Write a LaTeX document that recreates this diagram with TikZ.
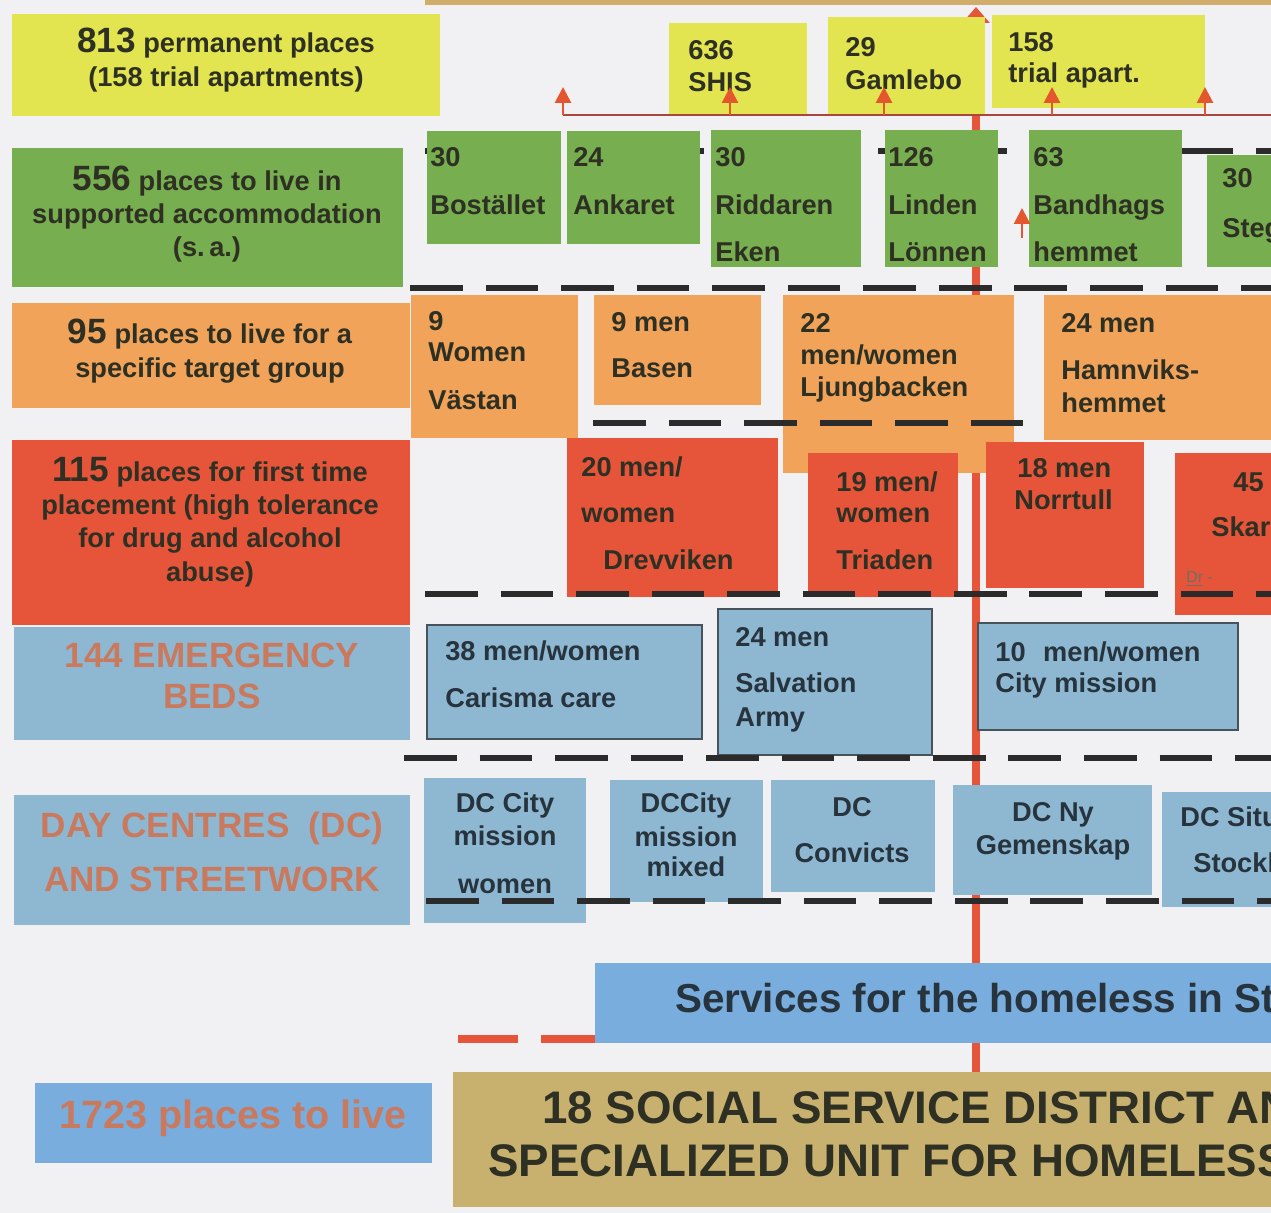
\documentclass[tikz,border=0pt]{standalone}
\usepackage{fontspec}
\setmainfont{Liberation Sans}
\usetikzlibrary{positioning,fit,arrows.meta}

\definecolor{paper}{HTML}{F1F1F4}
\definecolor{yelc}{HTML}{E2E54F}
\definecolor{grnc}{HTML}{77AE4F}
\definecolor{orac}{HTML}{F1A359}
\definecolor{redc}{HTML}{E6553A}
\definecolor{bluc}{HTML}{8EB8D2}
\definecolor{skyc}{HTML}{78ADDD}
\definecolor{tanc}{HTML}{C8B06E}
\definecolor{inkc}{HTML}{2E3024}
\definecolor{slatec}{HTML}{27333D}
\definecolor{rustc}{HTML}{C97A5E}
\definecolor{arrc}{HTML}{E4572E}
\definecolor{wirec}{HTML}{A8453C}
\definecolor{dashc}{HTML}{2B2B2B}

\newcommand\smf{\fontsize{15.5}{19}\selectfont}
\newcommand\bgf{\fontsize{20}{24}\selectfont}

\tikzset{
  cell/.style={inner sep=0pt, outer sep=0pt},
  yelbox/.style={cell, fill=yelc},
  grnbox/.style={cell, fill=grnc},
  orabox/.style={cell, fill=orac},
  redbox/.style={cell, fill=redc},
  blubox/.style={cell, fill=bluc},
  edgebox/.style={cell, fill=bluc, draw=slatec!85, line width=1.2pt},
  txt/.style={inner sep=0pt, anchor=west, font=\bfseries\smf, text=inkc, text height=11pt, text depth=0pt},
  dctxt/.style={txt, anchor=center, text=slatec},
  btxt/.style={txt, text=slatec},
  lab/.style={inner sep=0pt, align=center, font=\bfseries\smf, text=inkc},
  rustlab/.style={lab, text=rustc},
  sep/.style={draw=dashc, line width=3.2pt, dash pattern=on 30pt off 13pt},
  wire/.style={draw=wirec, line width=1.1pt},
  upar/.style={draw=arrc, line width=1.6pt, -{Triangle[width=9pt,length=9pt]}},
}

\begin{document}
\begin{tikzpicture}[x=0.02cm, y=-0.02cm]
\useasboundingbox (0,0) rectangle (1271,1213);
\clip (0,0) rectangle (1271,1213);
\fill[paper] (0,0) rectangle (1271,1213);
\fill[tanc!80!orac] (425,0) rectangle (1271,5);

% dashed line behind the green row
\coordinate (g-w) at (425,151);
\coordinate (g-e) at (1271,151);
\draw[sep] (g-w) -- (g-e);

% main red line
\coordinate (rl-b) at (976,1075);
\coordinate (rl-t) at (976,7);
\draw[draw=redc, line width=4pt, -{Triangle[width=15pt,length=9pt]}] (rl-b) -- (rl-t);

% left column
\node[yelbox, fit={(12,14) (440,116)}] (perm) {};
\node[lab] (perm-t) at (226,60) {{\bgf 813} permanent places\\(158 trial apartments)};
\node[grnbox, fit={(12,148) (403,287)}] (supp) {};
\node[lab] (supp-t) at (207,214) {{\bgf 556} places to live in\\supported accommodation\\(s.\,a.)};
\node[orabox, fit={(12,303) (410,408)}] (targ) {};
\node[lab] (targ-t) at (210,351) {{\bgf 95} places to live for a\\specific target group};
\node[redbox, fit={(12,440) (410,625)}] (first) {};
\node[lab] (first-t) at (210,522) {{\bgf 115} places for first time\\placement (high tolerance\\for drug and alcohol\\abuse)};
\node[blubox, fit={(14,627) (410,740)}] (emer) {};
\node[rustlab, font=\bfseries\fontsize{20}{23}\selectfont] (emer-t) at (212,676) {144 EMERGENCY\\BEDS};
\node[blubox, fit={(14,795) (410,925)}] (day) {};
\node[rustlab, font=\bfseries\fontsize{20}{31}\selectfont] (day-t) at (212,852) {DAY CENTRES\ \ (DC)\\AND STREETWORK};

% yellow row
\node[yelbox, fit={(669,23) (807,115)}] (shis) {};
\node[txt] (shis1) at (688,50) {636};
\node[txt] (shis2) at (688,82) {SHIS};
\node[yelbox, fit={(828,17) (985,115)}] (gaml) {};
\node[txt] (gaml1) at (845,47) {29};
\node[txt] (gaml2) at (845,80) {Gamlebo};
\node[yelbox, fit={(992,15) (1205,108)}] (trial) {};
\node[txt] (trial1) at (1008,42) {158};
\node[txt] (trial2) at (1008,73) {trial apart.};

\coordinate (hl-w) at (563,115);
\coordinate (hl-e) at (1271,115);
\draw[wire] (hl-w) -- (hl-e);
\foreach \x [count=\i] in {563,730,884,1052,1205}{
  \coordinate (up-f\i) at (\x,115);
  \coordinate (up-t\i) at (\x,87);
  \draw[upar] (up-f\i) -- (up-t\i);
}

% green row
\node[grnbox, fit={(427,131) (561,244)}] (bost) {};
\node[txt] (bost1) at (430,157) {30};
\node[txt] (bost2) at (430,205) {Bostället};
\node[grnbox, fit={(567,131) (700,244)}] (ank) {};
\node[txt] (ank1) at (573,157) {24};
\node[txt] (ank2) at (573,205) {Ankaret};
\node[grnbox, fit={(711,130) (861,267)}] (ridd) {};
\node[txt] (ridd1) at (715,157) {30};
\node[txt] (ridd2) at (715,205) {Riddaren};
\node[txt] (ridd3) at (715,252) {Eken};
\node[grnbox, fit={(885,130) (998,267)}] (lind) {};
\node[txt] (lind1) at (888,157) {126};
\node[txt] (lind2) at (888,205) {Linden};
\node[txt] (lind3) at (888,252) {Lönnen};
\node[grnbox, fit={(1029,130) (1182,267)}] (band) {};
\node[txt] (band1) at (1033,157) {63};
\node[txt] (band2) at (1033,205) {Bandhags};
\node[txt] (band3) at (1033,252) {hemmet};
\node[grnbox, fit={(1207,155) (1290,267)}] (steg) {};
\node[txt] (steg1) at (1222,178) {30};
\node[txt] (steg2) at (1222,228) {Stegen};
\coordinate (sa-f) at (1022,238);
\coordinate (sa-t) at (1022,208);
\draw[upar] (sa-f) -- (sa-t);

\coordinate (d1-w) at (410,288);
\coordinate (d1-e) at (1271,288);
\draw[sep] (d1-w) -- (d1-e);

% orange row
\node[orabox, fit={(411,295) (578,438)}] (vast) {};
\node[txt] (vast1) at (428,321) {9};
\node[txt] (vast2) at (428,352) {Women};
\node[txt] (vast3) at (428,400) {Västan};
\node[orabox, fit={(594,295) (761,405)}] (basen) {};
\node[txt] (basen1) at (611,322) {9 men};
\node[txt] (basen2) at (611,368) {Basen};
\node[orabox, fit={(783,295) (1014,473)}] (ljung) {};
\node[txt] (ljung1) at (800,323) {22};
\node[txt] (ljung2) at (800,355) {men/women};
\node[txt] (ljung3) at (800,387) {Ljungbacken};
\node[orabox, fit={(1044,295) (1290,440)}] (hamn) {};
\node[txt] (hamn1) at (1061,323) {24 men};
\node[txt] (hamn2) at (1061,370) {Hamnviks-};
\node[txt] (hamn3) at (1061,403) {hemmet};

\coordinate (d2-w) at (593,423);
\coordinate (d2-e) at (1044,423);
\draw[sep] (d2-w) -- (d2-e);

% red row
\node[redbox, fit={(567,438) (778,597)}] (drev) {};
\node[txt] (drev1) at (581,467) {20 men/};
\node[txt] (drev2) at (581,513) {women};
\node[txt] (drev3) at (603,560) {Drevviken};
\node[redbox, fit={(808,453) (958,597)}] (tria) {};
\node[txt] (tria1) at (836,482) {19 men/};
\node[txt] (tria2) at (836,513) {women};
\node[txt] (tria3) at (836,560) {Triaden};
\node[redbox, fit={(986,442) (1144,588)}] (norr) {};
\node[txt] (norr1) at (1017,468) {18 men};
\node[txt] (norr2) at (1014,500) {Norrtull};
\node[redbox, fit={(1175,453) (1290,615)}] (skar) {};
\node[txt] (skar1) at (1233,482) {45};
\node[txt] (skar2) at (1211,527) {Skarpnäck};
\node[txt, font=\fontsize{9}{10}\selectfont, text=inkc!70] (skar3) at (1186,573) {\underline{Dr} -};

\coordinate (d3-w) at (425,594);
\coordinate (d3-e) at (1271,594);
\draw[sep] (d3-w) -- (d3-e);

% emergency row
\node[edgebox, fit={(427,625) (702,739)}] (cari) {};
\node[btxt] (cari1) at (445,651) {38 men/women};
\node[btxt] (cari2) at (445,698) {Carisma care};
\node[edgebox, fit={(718,609) (932,755)}] (salv) {};
\node[btxt] (salv1) at (735,637) {24 men};
\node[btxt] (salv2) at (735,683) {Salvation};
\node[btxt] (salv3) at (735,717) {Army};
\node[edgebox, fit={(978,623) (1238,730)}] (city) {};
\node[btxt] (city1) at (995,652) {10\hspace{10pt}men/women};
\node[btxt] (city2) at (995,683) {City mission};

\coordinate (d4-w) at (404,758);
\coordinate (d4-e) at (1271,758);
\draw[sep] (d4-w) -- (d4-e);

% day centre row
\node[blubox, fit={(424,778) (586,923)}] (dcw) {};
\node[dctxt] (dcw1) at (505,803) {DC City};
\node[dctxt] (dcw2) at (505,836) {mission};
\node[dctxt] (dcw3) at (505,884) {women};
\node[blubox, fit={(610,780) (763,902)}] (dcm) {};
\node[dctxt] (dcm1) at (686,803) {DCCity};
\node[dctxt] (dcm2) at (686,837) {mission};
\node[dctxt] (dcm3) at (686,867) {mixed};
\node[blubox, fit={(771,780) (935,892)}] (dcc) {};
\node[dctxt] (dcc1) at (852,807) {DC};
\node[dctxt] (dcc2) at (852,853) {Convicts};
\node[blubox, fit={(953,785) (1152,895)}] (dcn) {};
\node[dctxt] (dcn1) at (1053,812) {DC Ny};
\node[dctxt] (dcn2) at (1053,845) {Gemenskap};
\node[blubox, fit={(1162,792) (1290,907)}] (dcs) {};
\node[btxt] (dcs1) at (1180,817) {DC Situation};
\node[btxt] (dcs2) at (1193,863) {Stockholm};

\coordinate (d5-w) at (426,901);
\coordinate (d5-e) at (1271,901);
\draw[sep] (d5-w) -- (d5-e);

% bottom
\node[cell, fill=skyc, fit={(595,963) (1290,1043)}] (serv) {};
\node[txt, font=\bfseries\fontsize{23}{26}\selectfont, text=slatec, text height=16.5pt] (serv-t) at (675,998) {Services for the homeless in Stockholm};
\coordinate (rd-w) at (458,1039);
\coordinate (rd-e) at (595,1039);
\draw[draw=redc, line width=4pt, dash pattern=on 34pt off 13pt] (rd-w) -- (rd-e);
\node[cell, fill=skyc, fit={(35,1083) (432,1163)}] (sum) {};
\node[rustlab, font=\bfseries\fontsize{22.5}{26}\selectfont] (sum-t) at (233,1118) {1723 places to live};
\node[cell, fill=tanc, fit={(453,1072) (1290,1207)}] (dist) {};
\node[txt, font=\bfseries\fontsize{26}{30}\selectfont, text=inkc, text height=18.7pt] (dist1) at (542,1107) {18 SOCIAL SERVICE DISTRICT AND};
\node[txt, font=\bfseries\fontsize{26}{30}\selectfont, text=inkc, text height=18.7pt] (dist2) at (488,1160) {SPECIALIZED UNIT FOR HOMELESS};
\end{tikzpicture}
\end{document}
